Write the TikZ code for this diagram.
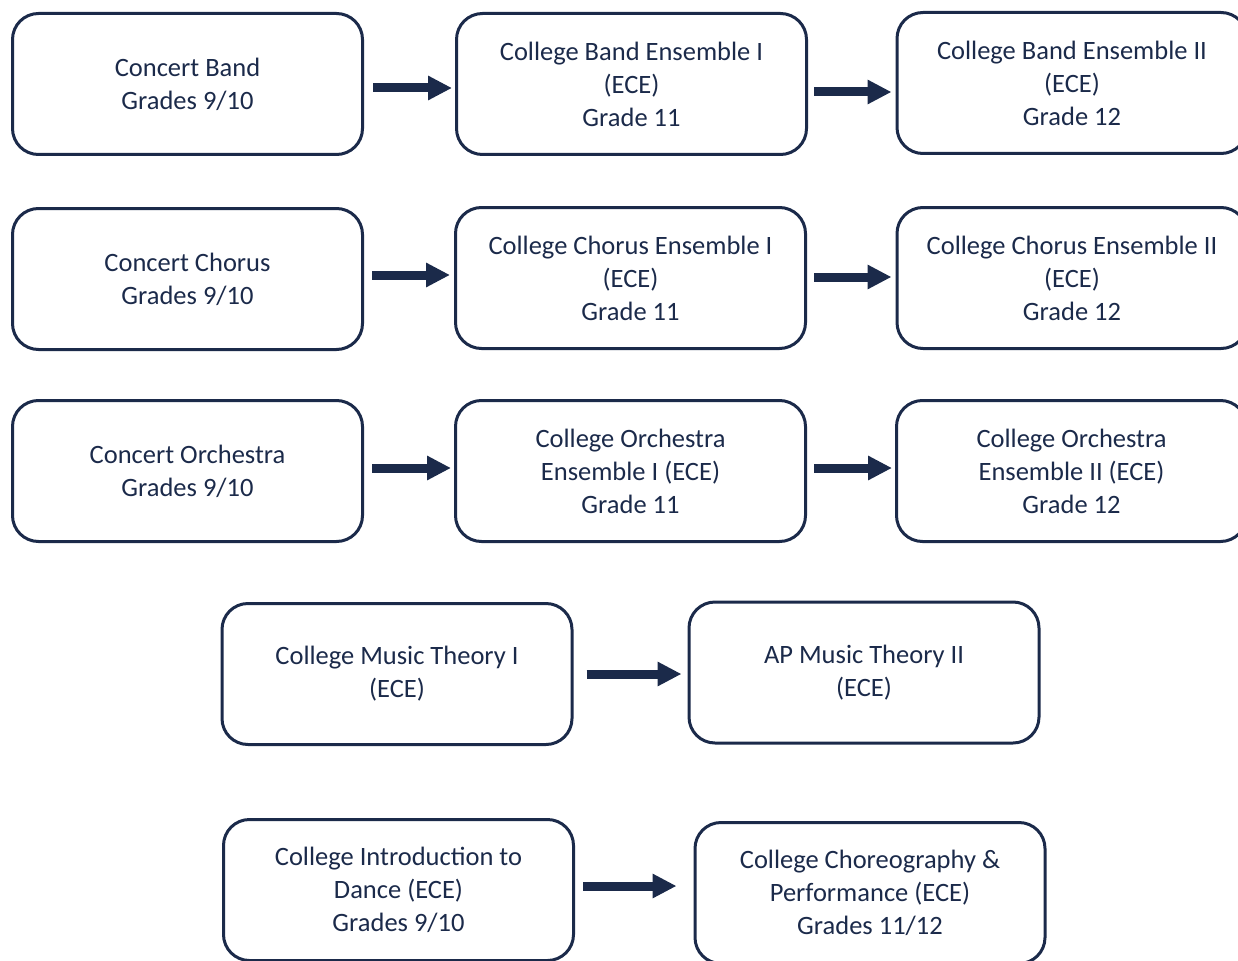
\documentclass[tikz,border=0pt]{standalone}
\usepackage{fontspec}
\setmainfont{Carlito}
\usetikzlibrary{arrows.meta}
\definecolor{navy}{HTML}{1B2A4A}
\tikzset{
  box/.style={draw=navy, line width=3pt, rounded corners=26pt, minimum width=350pt, minimum height=141pt,
    align=center, text=navy, inner sep=0pt, font=\fontsize{26.5}{33}\selectfont},
  arr/.style={draw=navy, line width=9pt, -{Triangle[length=24pt,width=23pt]}}
}
\begin{document}
\begin{tikzpicture}[x=1pt,y=-1pt]
\useasboundingbox (0,0) rectangle (1238,960);
\clip (0,0) rectangle (1238,960);
% row 1
\node[box] (A1) at (187.5,84) {Concert Band\\Grades 9/10};
\node[box] (A2) at (631.5,84) {College Band Ensemble I\\(ECE)\\Grade 11};
\node[box] (A3) at (1072,83) {College Band Ensemble II\\(ECE)\\Grade 12};
% row 2
\node[box] (B1) at (187.5,279) {Concert Chorus\\Grades 9/10};
\node[box] (B2) at (630.5,278) {College Chorus Ensemble I\\(ECE)\\Grade 11};
\node[box] (B3) at (1072,278) {College Chorus Ensemble II\\(ECE)\\Grade 12};
% row 3
\node[box] (C1) at (187.5,471) {Concert Orchestra\\Grades 9/10};
\node[box] (C2) at (630.5,471) {College Orchestra\\Ensemble I (ECE)\\Grade 11};
\node[box] (C3) at (1071.5,471) {College Orchestra\\Ensemble II (ECE)\\Grade 12};
% row 4
\node[box] (D1) at (397,674) {College Music Theory I\\(ECE)};
\node[box] (D2) at (864,672.5) {AP Music Theory II\\(ECE)};
% row 5
\node[box] (E1) at (398.5,890) {College Introduction to\\Dance (ECE)\\Grades 9/10};
\node[box] (E2) at (870,893) {College Choreography \&\\Performance (ECE)\\Grades 11/12};
% arrows
\draw[arr, shorten <=9pt, shorten >=3pt] (A1.east |- 0,88) -- (A2.west |- 0,88);
\draw[arr, shorten <=6pt, shorten >=4pt] (A2.east |- 0,92) -- (A3.west |- 0,92);
\draw[arr, shorten <=8pt, shorten >=4pt] (B1.east |- 0,275) -- (B2.west |- 0,275);
\draw[arr, shorten <=7pt, shorten >=4pt] (B2.east |- 0,277) -- (B3.west |- 0,277);
\draw[arr, shorten <=8pt, shorten >=3pt] (C1.east |- 0,468) -- (C2.west |- 0,468);
\draw[arr, shorten <=7pt, shorten >=3pt] (C2.east |- 0,468) -- (C3.west |- 0,468);
\draw[arr, shorten <=13pt, shorten >=6pt] (D1.east |- 0,674) -- (D2.west |- 0,674);
\draw[arr, shorten <=8pt, shorten >=17pt] (E1.east |- 0,886) -- (E2.west |- 0,886);
\end{tikzpicture}
\end{document}
